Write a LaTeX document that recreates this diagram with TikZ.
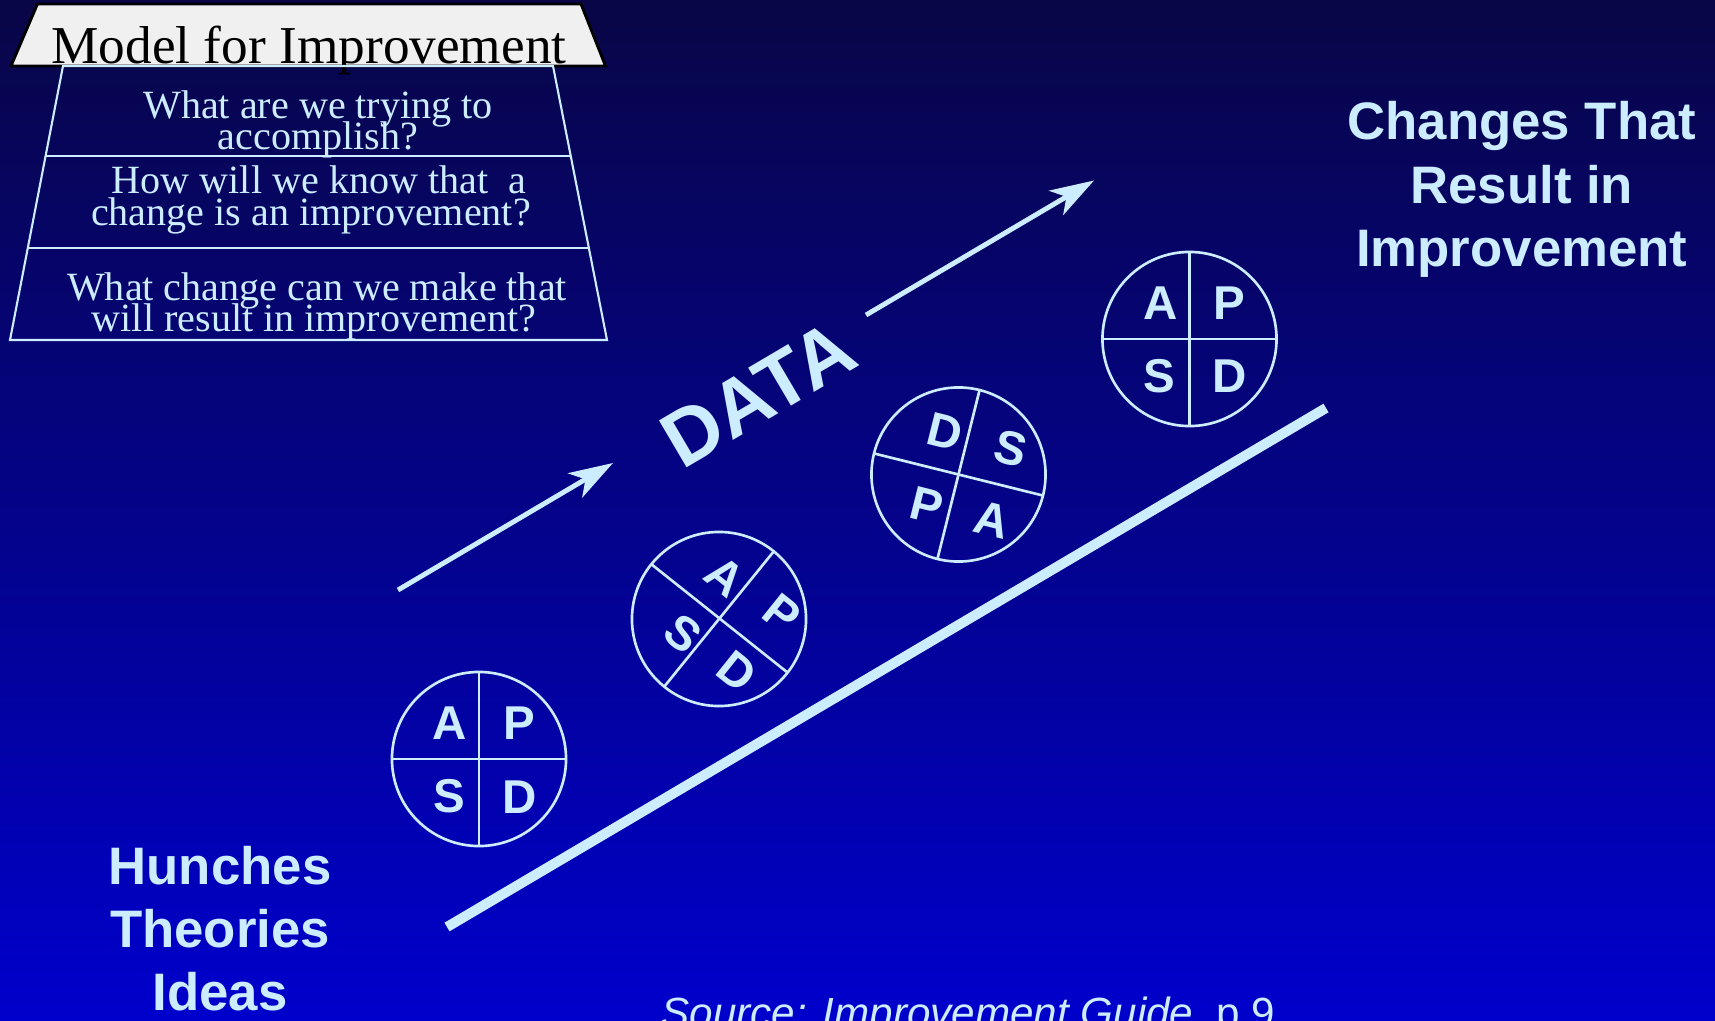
\documentclass[tikz,border=0pt]{standalone}
\usepackage{fontspec}
\setmainfont{Liberation Serif}
\newfontfamily\arial{Liberation Sans}
\usetikzlibrary{arrows.meta,calc}
\definecolor{lb}{RGB}{204,236,255}
\definecolor{bgtop}{RGB}{8,6,70}
\definecolor{bgbot}{RGB}{0,0,204}
\definecolor{hdr}{RGB}{240,240,240}
\begin{document}
\begin{tikzpicture}[x=0.01cm,y=0.01cm,
  qtext/.style={text=lb,font=\fontsize{11.4}{12}\selectfont,anchor=base,inner sep=0pt},
  bigtext/.style={text=lb,font=\arial\bfseries\fontsize{15}{18}\selectfont,anchor=base,inner sep=0pt},
  pdsa/.style={circle,draw=lb,line width=0.75pt,minimum size=1.74cm,inner sep=0pt,outer sep=0pt},
  crossline/.style={draw=lb,line width=0.75pt},
  letter/.style={text=lb,font=\arial\bfseries\fontsize{13.5}{14}\selectfont,inner sep=0pt},
  arr/.style={draw=lb,line width=1.4pt,-{Stealth[length=12.5pt,width=8pt,inset=3.4pt]}},
  frame/.style={draw=lb,line width=0.6pt}
]
\useasboundingbox (0,0) rectangle (1715,1020);
\clip (0,0) rectangle (1715,1020);
\shade[top color=bgtop,bottom color=bgbot] (0,0) rectangle (1715,1020);

% header trapezoid
\coordinate (htl) at (37.5,1016);
\coordinate (htr) at (581,1016);
\coordinate (hbr) at (605.5,954);
\coordinate (hbl) at (11,954);
\filldraw[fill=hdr,draw=black,line width=0.8pt] (htl) -- (htr) -- (hbr) -- (hbl) -- cycle;
\node[anchor=base,font=\fontsize{15.15}{16}\selectfont,inner sep=0pt,text=black] (title) at (309,957) {Model for Improvement};

% body trapezoid
\coordinate (btl) at (63,954);
\coordinate (btr) at (553,954);
\coordinate (bbr) at (607,680);
\coordinate (bbl) at (10,680);
\draw[frame] (btl) -- (btr) -- (bbr) -- (bbl) -- cycle;
\draw[frame] ($(btl)!0.327!(bbl)$) -- ($(btr)!0.327!(bbr)$);
\draw[frame] ($(btl)!0.664!(bbl)$) -- ($(btr)!0.664!(bbr)$);

\node[qtext] (q1a) at (318,902) {What are we trying to};
\node[qtext] (q1b) at (318,871) {accomplish?};
\node[qtext] (q2a) at (319,827) {How will we know that\ \ a};
\node[qtext] (q2b) at (311,795) {change is an improvement?};
\node[qtext] (q3a) at (317,720) {What change can we make that};
\node[qtext] (q3b) at (314,689) {will result in improvement?};

% thick line
\coordinate (ls) at (447,93);
\coordinate (le) at (1326,612);
\draw[lb,line width=2.85pt] (ls) -- (le);

% arrows
\coordinate (a1s) at (398,430);
\coordinate (a1e) at (613,557);
\draw[arr] (a1s) -- (a1e);
\coordinate (a2s) at (866,705);
\coordinate (a2e) at (1094,839.5);
\draw[arr] (a2s) -- (a2e);

\node[rotate=30.5,text=lb,font=\arial\bfseries\fontsize{22.5}{23}\selectfont,inner sep=0pt] (data) at (758,626) {DATA};

% cycle 1
\node[pdsa] (c1) at (479,261) {};
\draw[crossline] (c1.90) -- (c1.270);
\draw[crossline] (c1.180) -- (c1.0);
\node[letter] (c1a) at (450,296.7) {A};
\node[letter] (c1p) at (519.3,296.7) {P};
\node[letter] (c1s) at (449.3,224) {S};
\node[letter] (c1d) at (519.3,223.3) {D};

% cycle 2
\node[pdsa] (c2) at (719,401) {};
\draw[crossline] (c2.141.3) -- (c2.-38.7);
\draw[crossline] (c2.51.3) -- (c2.231.3);
\node[letter,rotate=-38.7] (c2a) at (725,443.3) {A};
\node[letter,rotate=-38.7] (c2p) at (781.7,406.7) {P};
\node[letter,rotate=-38.7] (c2s) at (683.3,386.7) {S};
\node[letter,rotate=-38.7] (c2d) at (736.7,348.3) {D};

% cycle 3
\node[pdsa] (c3) at (958.5,545.5) {};
\draw[crossline] (c3.166) -- (c3.-14);
\draw[crossline] (c3.76) -- (c3.256);
\node[letter,rotate=-14] (c3d) at (945,588.3) {D};
\node[letter,rotate=-14] (c3s) at (1010.7,572) {S};
\node[letter,rotate=-14] (c3p) at (926.7,515) {P};
\node[letter,rotate=-14] (c3a) at (991.7,500) {A};

% cycle 4
\node[pdsa] (c4) at (1189.5,681) {};
\draw[crossline] (c4.90) -- (c4.270);
\draw[crossline] (c4.180) -- (c4.0);
\node[letter] (c4a) at (1160.5,717) {A};
\node[letter] (c4p) at (1229.5,717) {P};
\node[letter] (c4s) at (1159.5,644) {S};
\node[letter] (c4d) at (1229.5,644) {D};

% right text
\node[bigtext] (r1) at (1521.8,880.7) {Changes That};
\node[bigtext] (r2) at (1521.8,816.7) {Result in};
\node[bigtext] (r3) at (1521.8,753.3) {Improvement};

% left text
\node[bigtext] (l1) at (220,136) {Hunches};
\node[bigtext] (l2) at (220,72.5) {Theories};
\node[bigtext] (l3) at (220,9.4) {Ideas};

% source
\node[anchor=base west,text=lb,font=\arial\fontsize{12}{12}\selectfont,inner sep=0pt] (src) at (661,-7) {\textit{Source: Improvement Guide}, p.9};
\end{tikzpicture}
\end{document}
